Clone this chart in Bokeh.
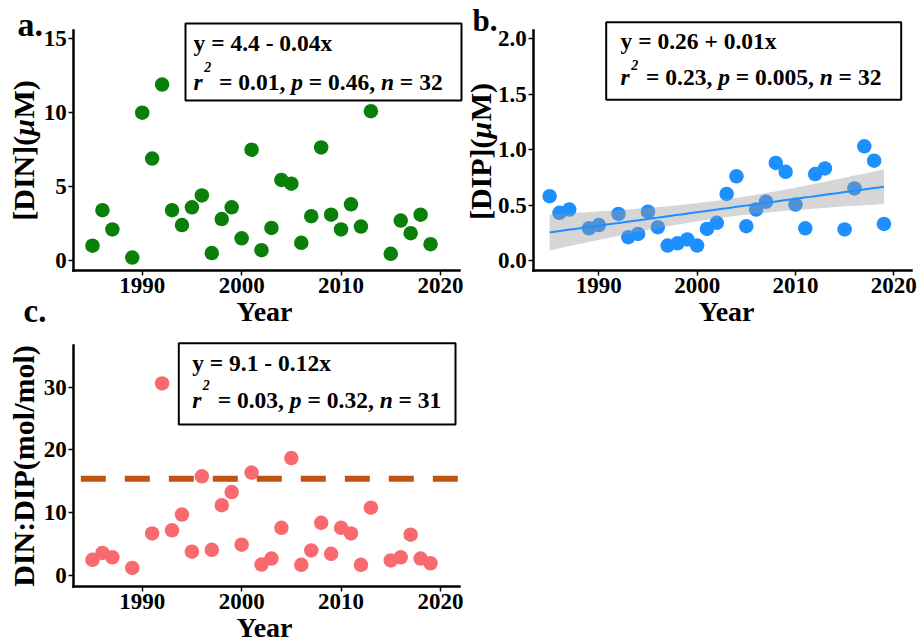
import numpy as np
from bokeh.plotting import figure
from bokeh.models import Range1d, FixedTicker, NumeralTickFormatter, Label, BoxAnnotation, LinearAxis, Grid
from bokeh.layouts import row, column
from bokeh.embed import file_html
from bokeh.resources import INLINE

SERIF = "Liberation Serif"

# ---------------- data ----------------
din_years = [1985, 1986, 1987, 1989, 1990, 1991, 1992, 1993, 1994, 1995, 1996, 1997,
             1998, 1999, 2000, 2001, 2002, 2003, 2004, 2005, 2006, 2007, 2008, 2009,
             2010, 2011, 2012, 2013, 2015, 2016, 2017, 2018, 2019]
din_values = [1.0, 3.4, 2.1, 0.2, 10.0, 6.9, 11.9, 3.4, 2.4, 3.6, 4.4, 0.5,
              2.8, 3.6, 1.5, 7.5, 0.7, 2.2, 5.45, 5.2, 1.2, 3.0, 7.65, 3.1,
              2.1, 3.8, 2.3, 10.1, 0.45, 2.7, 1.85, 3.1, 1.1]

dip_years = [1985, 1986, 1987, 1989, 1990, 1992, 1993, 1994, 1995, 1996, 1997, 1998,
             1999, 2000, 2001, 2002, 2003, 2004, 2005, 2006, 2007, 2008, 2009, 2010,
             2011, 2012, 2013, 2015, 2016, 2017, 2018, 2019]
dip_values = [0.58, 0.43, 0.46, 0.29, 0.32, 0.42, 0.21, 0.24, 0.44, 0.30, 0.135, 0.155,
              0.19, 0.135, 0.285, 0.34, 0.60, 0.76, 0.31, 0.46, 0.53, 0.88, 0.80, 0.505,
              0.29, 0.78, 0.83, 0.28, 0.65, 1.03, 0.90, 0.33]

ratio_years = [1985, 1986, 1987, 1989, 1991, 1992, 1993, 1994, 1995, 1996, 1997, 1998,
               1999, 2000, 2001, 2002, 2003, 2004, 2005, 2006, 2007, 2008, 2009, 2010,
               2011, 2012, 2013, 2015, 2016, 2017, 2018, 2019]
ratio_values = [2.5, 3.6, 2.9, 1.2, 6.7, 30.6, 7.2, 9.7, 3.8, 15.8, 4.1, 11.2,
                13.3, 4.9, 16.4, 1.75, 2.7, 7.6, 18.7, 1.7, 4.0, 8.4, 3.45, 7.6,
                6.7, 1.7, 10.8, 2.4, 2.9, 6.5, 2.7, 1.95]
redfield_ratio = 15.4

x_ticks = [1990, 2000, 2010, 2020]
din_ticks = [0, 5, 10, 15]
dip_ticks = [0.0, 0.5, 1.0, 1.5, 2.0]
ratio_ticks = [0, 10, 20, 30]

eq_a = "y = 4.4 - 0.04x"
stats_a = ["0.01", "0.46", "32"]
eq_b = "y = 0.26 + 0.01x"
stats_b = ["0.23", "0.005", "32"]
eq_c = "y = 9.1 - 0.12x"
stats_c = ["0.03", "0.32", "31"]

GREEN = "#0A800A"
BLUE = "#1E8FFF"
PINK = "#F96A6E"
DASH = "#C1530F"

# ---------------- helpers ----------------
W_BOLD = {' ': .25, '=': .570, '.': .25, ',': .25, '-': .333, '+': .570, 'x': .5, 'y': .5,
          '[': .333, ']': .333, '(': .333, ')': .333, 'D': .722, 'I': .389, 'N': .722,
          'P': .611, 'M': .944, ':': .333, 'm': .833, 'o': .5, 'l': .278, '/': .278}
W_BI = {'r': .389, 'p': .5, 'n': .556, '2': .5, '\u03bc': .576}
BASELINE_FIX = 0.39   # rendered alphabetic labels sit ~0.39 em lower than asked
MIDDLE_FIX = 0.14     # rotated "middle" labels sit ~0.14 em right of asked


def tw(s, style, size):
    tab = W_BI if "italic" in style else W_BOLD
    return sum(tab.get(c, .5) for c in s) * size


class Panel:
    """A figure whose frame fills the whole canvas; positions given in page pixels."""

    def __init__(self, x0, y0, w, h, px_1990, px_per_year, py_zero, py_per_unit,
                 axis_px, axis_py, right_px, top_py, yticks, fmt=None):
        self.x0, self.y0, self.w, self.h = x0, y0, w, h
        self.px_1990, self.ppy = px_1990, px_per_year
        self.py_zero, self.ppu = py_zero, py_per_unit
        xr = (self.dx(x0), self.dx(x0 + w))
        yr = (self.dy(y0 + h), self.dy(y0))
        p = figure(width=w, height=h, x_range=Range1d(*xr), y_range=Range1d(*yr),
                   output_backend="svg", toolbar_location=None, tools="",
                   x_axis_location=None, y_axis_location=None,
                   min_border_left=0, min_border_right=0, min_border_top=0, min_border_bottom=0,
                   background_fill_color="white", border_fill_color="white")
        p.outline_line_color = None
        for g in p.select(type=Grid):
            g.visible = False
        self.x_lo, self.x_hi = self.dx(axis_px), self.dx(right_px)
        self.y_lo, self.y_hi = self.dy(axis_py), self.dy(top_py)
        xa = LinearAxis(fixed_location=self.y_lo, bounds=(self.x_lo, self.x_hi),
                        ticker=FixedTicker(ticks=x_ticks, minor_ticks=[]))
        ya = LinearAxis(fixed_location=self.x_lo, bounds=(self.y_lo, self.y_hi),
                        ticker=FixedTicker(ticks=yticks, minor_ticks=[]))
        if fmt:
            ya.formatter = NumeralTickFormatter(format=fmt)
        for ax in (xa, ya):
            ax.axis_line_color = "black"
            ax.axis_line_width = 2.5
            ax.axis_line_cap = "square"
            ax.major_tick_line_color = "black"
            ax.major_tick_line_width = 1.5
            ax.major_tick_out = 5
            ax.major_tick_in = 0
            ax.minor_tick_out = 0
            ax.minor_tick_in = 0
            ax.major_label_text_font = SERIF
            ax.major_label_text_font_style = "bold"
            ax.major_label_text_font_size = "23px"
            ax.major_label_text_color = "black"
            ax.major_label_standoff = 2
        p.add_layout(xa, "below")
        p.add_layout(ya, "left")
        self.p = p

    # page pixel -> data
    def dx(self, px):
        return 1990 + (px - self.px_1990) / self.ppy

    def dy(self, py):
        return (self.py_zero - py) / self.ppu

    # page pixel -> screen (frame == canvas, y from bottom)
    def sx(self, px):
        return px - self.x0

    def sy(self, py):
        return self.y0 + self.h - py

    def lab(self, px, py, text, size, style="bold", align="left", baseline="alphabetic", angle=0.0):
        if baseline == "alphabetic" and angle == 0.0:
            py = py - BASELINE_FIX * size
        self.p.add_layout(Label(x=self.sx(px), y=self.sy(py), x_units="screen", y_units="screen",
                                text=text, text_font=SERIF, text_font_style=style,
                                text_font_size=f"{size}px", text_color="black",
                                text_align=align, text_baseline=baseline, angle=angle))

    def vtitle(self, pxc, pyc, pieces, size=30):
        total = sum(tw(t, s, size) for t, s in pieces)
        y = pyc + total / 2  # page y of the start (bottom) of the rotated text
        for t, s in pieces:
            self.lab(pxc - MIDDLE_FIX * size, y, t, size, s, align="left",
                     baseline="middle", angle=np.pi / 2)
            y -= tw(t, s, size)

    def stat_box(self, left, right, top, bottom, tx, y1, y2, ysup, eq, stats, size=23.5):
        self.p.add_layout(BoxAnnotation(left=self.sx(left), right=self.sx(right),
                                        bottom=self.sy(bottom), top=self.sy(top),
                                        left_units="screen", right_units="screen",
                                        bottom_units="screen", top_units="screen",
                                        fill_alpha=0, line_color="black", line_alpha=1.0,
                                        line_width=2))
        self.lab(tx, y1, eq, size)
        cur = tx
        self.lab(cur, y2, "r", size, "bold italic")
        cur += tw("r", "bold italic", size) + 1.5
        self.lab(cur, ysup, "2", 14, "bold italic")
        cur += tw("2", "bold italic", 14) + 2
        pieces = [(f" = {stats[0]}, ", "bold"), ("p", "bold italic"),
                  (f" = {stats[1]}, ", "bold"), ("n", "bold italic"), (f" = {stats[2]}", "bold")]
        for txt, st in pieces:
            lead = len(txt) - len(txt.lstrip(' '))
            self.lab(cur + tw(' ' * lead, st, size), y2, txt.strip(), size, st)
            cur += tw(txt, st, size)


# ---------------- panel a ----------------
A = Panel(0, 0, 463, 332, 141.7, 9.943, 260.0, 14.78, 73.3, 270.0, 459.0, 30.0, din_ticks)
A.p.scatter(din_years, din_values, size=14.5, fill_color=GREEN, line_color=None)
A.stat_box(185, 461, 23, 100, 193, 51.5, 91, 72, eq_a, stats_a)
A.lab(17, 37, "a.", 34)
A.lab(23, 323, "c.", 33)
A.lab(264, 322, "Year", 28, align="center")
A.vtitle(27, 150, [("[DIN](", "bold"), ("\u03bc", "bold italic"), ("M)", "bold")])

# ---------------- panel b ----------------
B = Panel(463, 0, 455, 332, 598.3, 9.833, 260.0, 110.85, 533.3, 270.0, 911.0, 30.0, dip_ticks, fmt="0.0")
B.p.scatter(dip_years, dip_values, size=14.5, fill_color=BLUE, line_color=None)
xb = np.array(dip_years, dtype=float)
yb = np.array(dip_values, dtype=float)
nb = len(xb)
slope, icpt = np.polyfit(xb, yb, 1)
xs = np.linspace(xb.min(), xb.max(), 100)
yhat = icpt + slope * xs
resid = yb - (icpt + slope * xb)
s_err = np.sqrt(np.sum(resid ** 2) / (nb - 2))
sxx = np.sum((xb - xb.mean()) ** 2)
se = s_err * np.sqrt(1.0 / nb + (xs - xb.mean()) ** 2 / sxx)
t_crit = 2.042
B.p.varea(x=xs, y1=yhat - t_crit * se, y2=yhat + t_crit * se, fill_color="#999999", fill_alpha=0.4)
B.p.line(xs, yhat, line_color=BLUE, line_width=2)
B.stat_box(605.7, 900.7, 21.7, 99.3, 620, 49.3, 86, 70, eq_b, stats_b)
B.lab(472, 31.7, "b.", 31)
B.lab(726, 322, "Year", 28, align="center")
B.vtitle(484, 151, [("[DIP](", "bold"), ("\u03bc", "bold italic"), ("M)", "bold")])

# ---------------- panel c ----------------
C = Panel(0, 332, 463, 311, 141.7, 9.943, 575.0, 6.277, 73.3, 586.0, 459.0, 345.0, ratio_ticks)
C.p.scatter(ratio_years, ratio_values, size=14.5, fill_color=PINK, line_color=None)
C.p.line([C.x_lo, C.x_hi], [redfield_ratio, redfield_ratio], line_color=DASH,
         line_width=6, line_dash="25 19", line_dash_offset=37)
C.stat_box(178.3, 455, 342.7, 424, 191.7, 371.7, 408.3, 390, eq_c, stats_c)
C.lab(264, 638, "Year", 28, align="center")
C.vtitle(27.5, 465.5, [("DIN:DIP(mol/mol)", "bold")])

layout = column(row(A.p, B.p), C.p)
open("out.html", "w").write(file_html(layout, INLINE))
